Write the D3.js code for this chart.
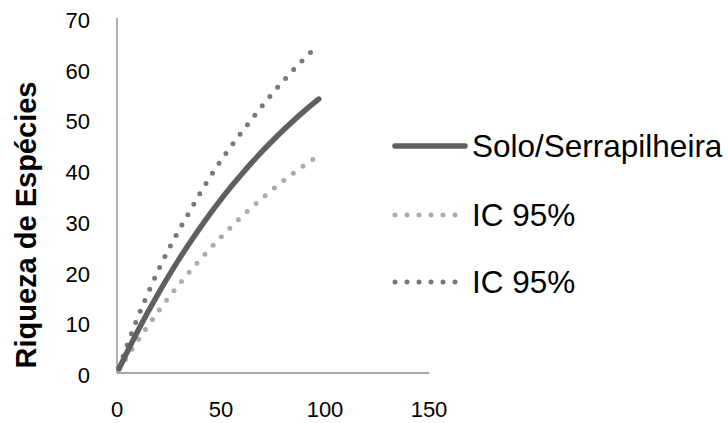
<!DOCTYPE html>
<html>
<head>
<meta charset="utf-8">
<script src="https://cdn.jsdelivr.net/npm/d3@7"></script>
<style>
  html, body { margin: 0; padding: 0; background: #fff; }
  svg { display: block; font-family: "Liberation Sans", Arial, sans-serif; }
</style>
</head>
<body>
<svg id="chart" width="728" height="423"></svg>
<script>
// Number of samples (x) for the rarefaction curves
const samples = [1, 5, 10, 15, 20, 25, 30, 35, 40, 45, 50, 55, 60, 65, 70, 75, 80, 85, 90, 95, 97];

// Estimated species richness and its 95% confidence bounds
const riqueza = [0.87, 4.24, 8.28, 12.12, 15.77, 19.24, 22.55, 25.69, 28.68, 31.53, 34.23, 36.81, 39.25, 41.58, 43.80, 45.90, 47.91, 49.82, 51.63, 53.35, 54.02];
const icInferior = [0.67, 3.27, 6.39, 9.37, 12.22, 14.94, 17.53, 20.01, 22.38, 24.65, 26.81, 28.87, 30.84, 32.72, 34.52, 36.24, 37.88, 39.44, 40.94, 42.36, 42.92];
const icSuperior = [1.06, 5.6, 11.0, 15.8, 20.4, 24.5, 28.3, 31.9, 35.5, 38.8, 41.9, 44.8, 47.5, 50.16, 52.78, 55.27, 57.62, 59.86, 61.99, 64.0, 64.78];

const xTicks = [0, 50, 100, 150];
const yTicks = [0, 10, 20, 30, 40, 50, 60, 70];

const seriesNames = ["Solo/Serrapilheira", "IC 95%", "IC 95%"];
const yTitle = "Riqueza de Espécies";

const svg = d3.select("#chart");

const x = d3.scaleLinear().domain([0, 150]).range([117, 429]);
const y = d3.scaleLinear().domain([0, 70]).range([373, 18]);

// Axis lines (no tick marks)
svg.append("line")
  .attr("x1", x(0)).attr("x2", x(0))
  .attr("y1", y(70)).attr("y2", y(0))
  .attr("stroke", "#878787").attr("stroke-width", 1.3);
svg.append("line")
  .attr("x1", x(0)).attr("x2", x(150))
  .attr("y1", y(0)).attr("y2", y(0))
  .attr("stroke", "#878787").attr("stroke-width", 1.3);

// Tick labels
svg.append("g").selectAll("text").data(yTicks).join("text")
  .attr("x", 90)
  .attr("y", d => y(d) + 10)
  .attr("text-anchor", "end")
  .attr("font-size", 22)
  .attr("fill", "#000")
  .text(d => d);

svg.append("g").selectAll("text").data(xTicks).join("text")
  .attr("x", d => x(d))
  .attr("y", 417)
  .attr("text-anchor", "middle")
  .attr("font-size", 22)
  .attr("fill", "#000")
  .text(d => d);

// Y axis title, centred a little below the middle of the axis
svg.append("text")
  .attr("transform", "translate(36, 225) rotate(-90)")
  .attr("text-anchor", "middle")
  .attr("font-size", 29)
  .attr("font-weight", "bold")
  .attr("fill", "#000")
  .text(yTitle);

// Curves
const styles = [
  { values: riqueza, color: "#5f5f5f", dash: null },
  { values: icInferior, color: "#ababab", dash: "0 12" },
  { values: icSuperior, color: "#787878", dash: "0 12" }
];

const line = d3.line()
  .x(d => x(d[0]))
  .y(d => y(d[1]))
  .curve(d3.curveMonotoneX);

// draw dotted bounds first, solid estimate on top
[styles[2], styles[1], styles[0]].forEach(s => {
  svg.append("path")
    .datum(samples.map((v, i) => [v, s.values[i]]))
    .attr("d", line)
    .attr("fill", "none")
    .attr("stroke", s.color)
    .attr("stroke-width", s.dash ? 5 : 5.5)
    .attr("stroke-linecap", "round")
    .attr("stroke-dasharray", s.dash);
});

// Legend
const legendRows = [146, 215, 282];
const legend = svg.append("g");
styles.forEach((s, i) => {
  legend.append("line")
    .attr("x1", 395).attr("x2", 465)
    .attr("y1", legendRows[i]).attr("y2", legendRows[i])
    .attr("stroke", s.color)
    .attr("stroke-width", s.dash ? 5 : 5.5)
    .attr("stroke-linecap", "round")
    .attr("stroke-dasharray", s.dash);
  legend.append("text")
    .attr("x", 472)
    .attr("y", legendRows[i] + 11)
    .attr("font-size", 31.5)
    .attr("fill", "#000")
    .text(seriesNames[i]);
});
</script>
</body>
</html>
